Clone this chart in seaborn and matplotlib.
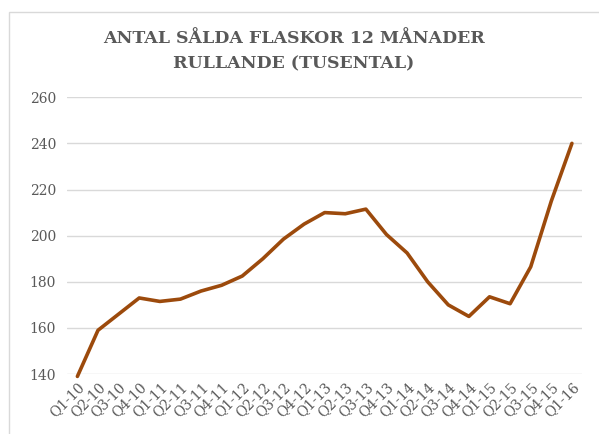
import matplotlib
matplotlib.use("Agg")
import matplotlib.pyplot as plt
import seaborn as sns
import pandas as pd
from matplotlib.patches import Rectangle

# Quarters and rolling 12-month bottle sales (thousands)
quarters = ["Q1-10", "Q2-10", "Q3-10", "Q4-10",
            "Q1-11", "Q2-11", "Q3-11", "Q4-11",
            "Q1-12", "Q2-12", "Q3-12", "Q4-12",
            "Q1-13", "Q2-13", "Q3-13", "Q4-13",
            "Q1-14", "Q2-14", "Q3-14", "Q4-14",
            "Q1-15", "Q2-15", "Q3-15", "Q4-15",
            "Q1-16"]
sold = [139, 159, 166, 173,
        171.5, 172.5, 176, 178.5,
        182.5, 190, 198.5, 205,
        210, 209.5, 211.5, 200.5,
        192.5, 180, 170, 165,
        173.5, 170.5, 186.5, 215,
        240]
y_ticks = [140, 160, 180, 200, 220, 240, 260]

df = pd.DataFrame({"quarter": quarters, "sold": sold})
df["pos"] = range(len(df))

sns.set_style("white")
plt.rcParams["font.family"] = ["DejaVu Serif"]

grey = "#595959"
fig = plt.figure(figsize=(5.99, 4.34), dpi=100)
ax = fig.add_axes([0.112, 0.138, 0.860, 0.638])

sns.lineplot(data=df, x="pos", y="sold", ax=ax, color="#9C4A0C",
             linewidth=2.6, clip_on=False)

ax.set_xlim(-0.5, len(quarters) - 0.5)
ax.set_ylim(140, 260)
ax.set_yticks(y_ticks)
ax.set_xticks(df["pos"])
ax.set_xticklabels(quarters, rotation=45, ha="right", rotation_mode="anchor")
ax.tick_params(axis="both", length=0, labelsize=10, colors=grey)
ax.tick_params(axis="y", pad=8)
ax.tick_params(axis="x", pad=4)
ax.grid(axis="y", color="#d9d9d9", linewidth=1)
for s in ax.spines.values():
    s.set_visible(False)
ax.set_xlabel("")
ax.set_ylabel("")

fig.text(0.49, 0.882, "ANTAL SÅLDA FLASKOR 12 MÅNADER\nRULLANDE (TUSENTAL)",
         ha="center", va="center", fontsize=12.5, fontweight="bold",
         color=grey, linespacing=1.6)

# outer chart border
fig.patches.append(Rectangle((9 / 599, -0.1), 1.2, 1 - 12 / 434 + 0.1,
                             transform=fig.transFigure, fill=False,
                             edgecolor="#d9d9d9", linewidth=1))

fig.savefig("out.png", dpi=100)
